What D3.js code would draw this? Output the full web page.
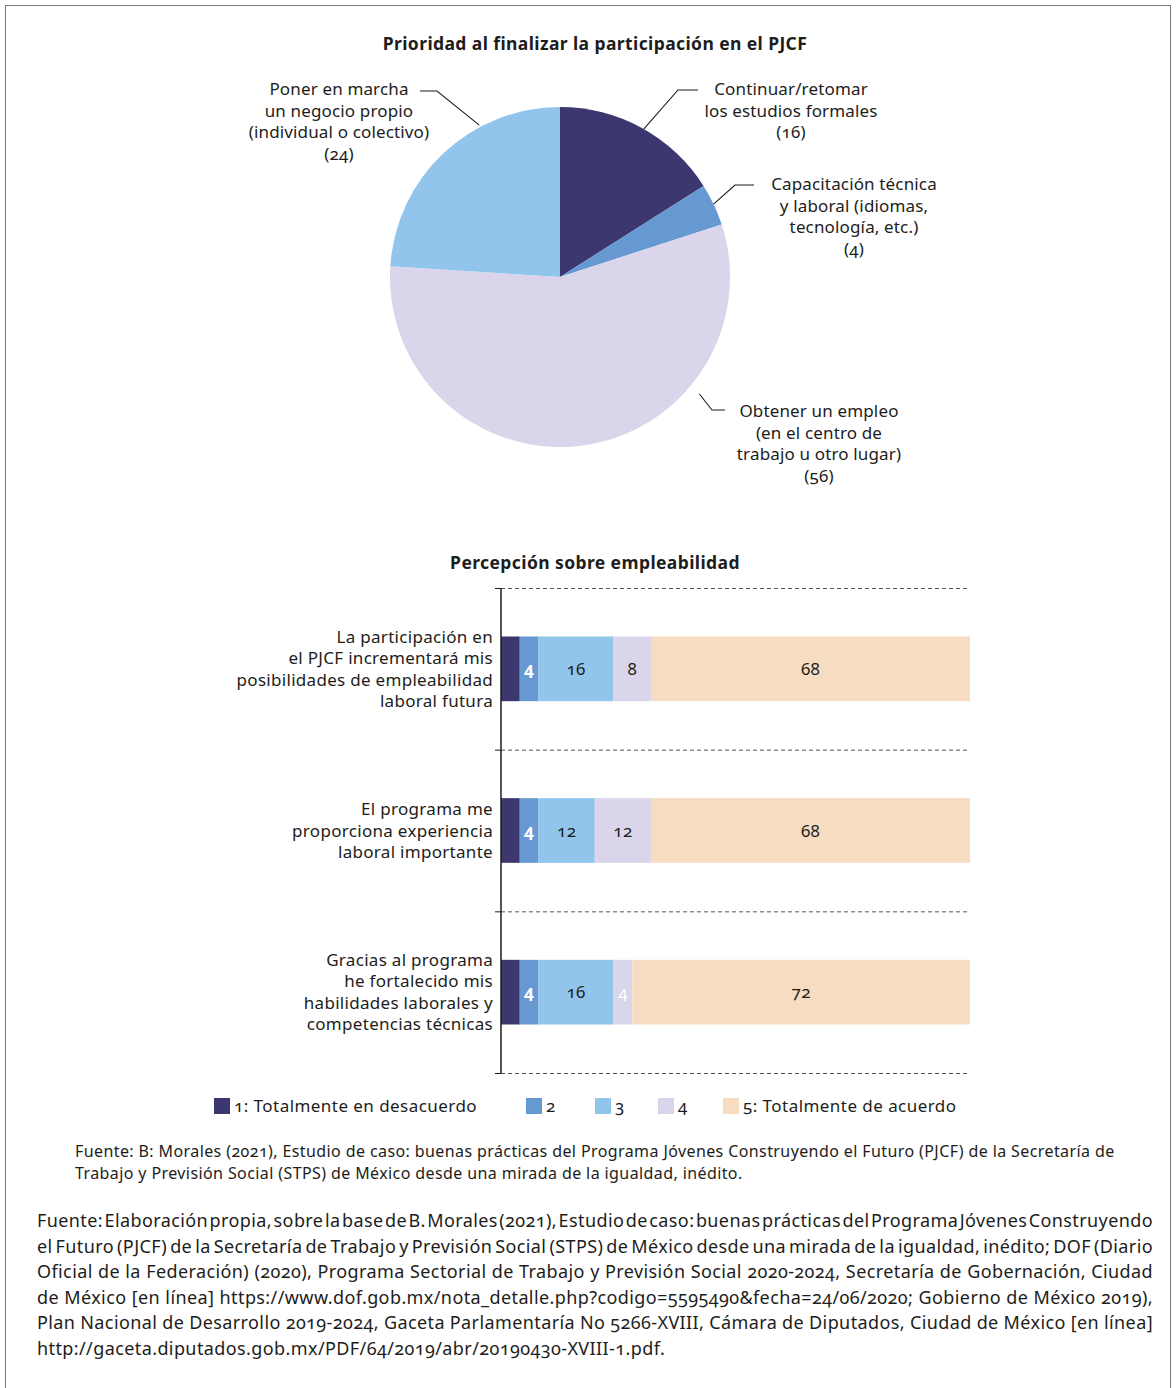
<!DOCTYPE html>
<html lang="es">
<head>
<meta charset="utf-8">
<script src="https://cdn.jsdelivr.net/npm/d3@7"></script>
<style>
  html, body { margin: 0; padding: 0; background: #fff; }
  svg { display: block; }
  text { font-family: "Noto Sans", "Open Sans", sans-serif; fill: #1d1d1b; font-variant-numeric: oldstyle-nums; font-feature-settings: "onum" 1; }
  .title { font-weight: 700; font-size: 17.5px; letter-spacing: 0.4px; }
  .lbl { font-size: 17px; letter-spacing: 0.3px; }
  .pielbl { font-size: 17px; letter-spacing: 0.15px; }
  .note { font-size: 16px; letter-spacing: 0.4px; }
  .src { font-size: 18px; letter-spacing: 0.4px; }
</style>
</head>
<body>
<svg id="chart" width="1176" height="1388"></svg>
<script>
// ---- Pie: priority after finishing the programme ----
const pieCategories = [
  "Continuar/retomar los estudios formales",
  "Capacitación técnica y laboral (idiomas, tecnología, etc.)",
  "Obtener un empleo (en el centro de trabajo u otro lugar)",
  "Poner en marcha un negocio propio (individual o colectivo)"
];
const pieValues = [16, 4, 56, 24];
const pieLabelLines = [
  ["Continuar/retomar", "los estudios formales", "(16)"],
  ["Capacitación técnica", "y laboral (idiomas,", "tecnología, etc.)", "(4)"],
  ["Obtener un empleo", "(en el centro de", "trabajo u otro lugar)", "(56)"],
  ["Poner en marcha", "un negocio propio", "(individual o colectivo)", "(24)"]
];
const pieColors = ["#3c376e", "#6699d2", "#dad5ea", "#92c5ec"];

// ---- Stacked bars: perceived employability ----
const barCategories = [
  "La participación en el PJCF incrementará mis posibilidades de empleabilidad laboral futura",
  "El programa me proporciona experiencia laboral importante",
  "Gracias al programa he fortalecido mis habilidades laborales y competencias técnicas"
];
const barCategoryLines = [
  ["La participación en", "el PJCF incrementará mis", "posibilidades de empleabilidad", "laboral futura"],
  ["El programa me", "proporciona experiencia", "laboral importante"],
  ["Gracias al programa", "he fortalecido mis", "habilidades laborales y", "competencias técnicas"]
];
const seriesNames = ["1: Totalmente en desacuerdo", "2", "3", "4", "5: Totalmente de acuerdo"];
const seriesValues = [
  [4, 4, 16, 8, 68],
  [4, 4, 12, 12, 68],
  [4, 4, 16, 4, 72]
];
const seriesColors = ["#3c376e", "#6699d2", "#92c5ec", "#dad5ea", "#f6dcc0"];

const pieTitle = "Prioridad al finalizar la participación en el PJCF";
const barTitle = "Percepción sobre empleabilidad";
const noteLines = [
  "Fuente: B: Morales (2021), Estudio de caso: buenas prácticas del Programa Jóvenes Construyendo el Futuro (PJCF) de la Secretaría de",
  "Trabajo y Previsión Social (STPS) de México desde una mirada de la igualdad, inédito."
];
const sourceLines = [
  "Fuente: Elaboración propia, sobre la base de B. Morales (2021), Estudio de caso: buenas prácticas del Programa Jóvenes Construyendo",
  "el Futuro (PJCF) de la Secretaría de Trabajo y Previsión Social (STPS) de México desde una mirada de la igualdad, inédito; DOF (Diario",
  "Oficial de la Federación) (2020), Programa Sectorial de Trabajo y Previsión Social 2020-2024, Secretaría de Gobernación, Ciudad",
  "de México [en línea] https://www.dof.gob.mx/nota_detalle.php?codigo=5595490&fecha=24/06/2020; Gobierno de México 2019),",
  "Plan Nacional de Desarrollo 2019-2024, Gaceta Parlamentaría No 5266-XVIII, Cámara de Diputados, Ciudad de México [en línea]",
  "http://gaceta.diputados.gob.mx/PDF/64/2019/abr/20190430-XVIII-1.pdf."
];

const svg = d3.select("#chart");

// outer frame
svg.append("rect")
  .attr("x", 5.5).attr("y", 5.5)
  .attr("width", 1165).attr("height", 1400)
  .attr("fill", "none").attr("stroke", "#7a7a7a").attr("stroke-width", 1);

// ================= PIE =================
svg.append("text").attr("class", "title")
  .attr("x", 595).attr("y", 50).attr("text-anchor", "middle").text(pieTitle);

const cx = 560, cy = 277, R = 170;
const pie = d3.pie().sort(null).value(d => d)(pieValues);
const arc = d3.arc().innerRadius(0).outerRadius(R);
const gPie = svg.append("g").attr("transform", `translate(${cx},${cy})`);
gPie.selectAll("path").data(pie).join("path")
  .attr("d", arc)
  .attr("fill", (d, i) => pieColors[i]);

// leader lines: start angle on the rim (degrees clockwise from top), elbow, end of horizontal stub
const leaders = [
  { deg: 29.5, gap: 0, elbow: [678, 90], end: [698, 90], tx: 791, ty: 95 },
  { deg: 64.6, gap: 0, elbow: [735, 185], end: [754, 185], tx: 854, ty: 190 },
  { deg: 130, gap: 12, elbow: [712, 410], end: [725, 410], tx: 819, ty: 417 },
  { deg: 332, gap: 2, elbow: [437, 91], end: [420, 91], tx: 339, ty: 95 }
];
const lineH = 21.5;
leaders.forEach((L, i) => {
  const a = L.deg * Math.PI / 180, r = R + L.gap;
  const sx = cx + r * Math.sin(a), sy = cy - r * Math.cos(a);
  svg.append("polyline")
    .attr("points", [[sx, sy], L.elbow, L.end].map(p => p.join(",")).join(" "))
    .attr("fill", "none").attr("stroke", "#1d1d1b").attr("stroke-width", 1.1);
  const t = svg.append("text").attr("class", "pielbl").attr("text-anchor", "middle");
  pieLabelLines[i].forEach((s, k) => {
    t.append("tspan").attr("x", L.tx).attr("y", L.ty + k * lineH).text(s);
  });
});

// ================= STACKED BARS =================
svg.append("text").attr("class", "title")
  .attr("x", 595).attr("y", 569).attr("text-anchor", "middle").text(barTitle);

const x = d3.scaleLinear().domain([0, 100]).range([501, 970]);
const yRow = d3.scaleBand().domain(barCategories).range([588, 1073]).padding(0);
const yBar = d3.scaleBand().domain(barCategories).range([588, 1073])
  .paddingInner(0.6).paddingOuter(0.3);

// dashed separators between rows
const bounds = barCategories.map(c => yRow(c)).concat([yRow.range()[1]]);
svg.append("g").selectAll("line").data(bounds).join("line")
  .attr("x1", x(0)).attr("x2", x(100))
  .attr("y1", d => d + 0.5).attr("y2", d => d + 0.5)
  .attr("stroke", "#555").attr("stroke-width", 1).attr("stroke-dasharray", "4,3");

const stackData = barCategories.map((c, r) => {
  const o = { cat: c };
  seriesNames.forEach((s, k) => o[s] = seriesValues[r][k]);
  return o;
});
const stacked = d3.stack().keys(seriesNames)(stackData);

const gBars = svg.append("g");
stacked.forEach((layer, k) => {
  gBars.selectAll(null).data(layer).join("rect")
    .attr("x", d => x(d[0]))
    .attr("y", d => yBar(d.data.cat))
    .attr("width", d => x(d[1]) - x(d[0]))
    .attr("height", yBar.bandwidth())
    .attr("fill", seriesColors[k]);
});
// value labels (first series carries none)
stacked.forEach((layer, k) => {
  if (k === 0) return;
  gBars.selectAll(null).data(layer).join("text")
    .attr("class", "lbl")
    .attr("x", d => (x(d[0]) + x(d[1])) / 2)
    .attr("y", d => yBar(d.data.cat) + yBar.bandwidth() / 2)
    .attr("dy", "0.36em")
    .attr("text-anchor", "middle")
    .style("fill", d => (k === 1 || (k === 3 && d[1] - d[0] <= 4)) ? "#fff" : "#1d1d1b")
    .style("font-weight", k === 1 ? 700 : 400)
    .text(d => d[1] - d[0]);
});

// y axis line and row ticks
svg.append("line")
  .attr("x1", 501).attr("x2", 501).attr("y1", 588).attr("y2", 1073)
  .attr("stroke", "#1d1d1b").attr("stroke-width", 1.5);
svg.append("g").selectAll("line").data(bounds).join("line")
  .attr("x1", 495).attr("x2", 501)
  .attr("y1", d => d + 0.5).attr("y2", d => d + 0.5)
  .attr("stroke", "#1d1d1b").attr("stroke-width", 1);

// category labels
barCategories.forEach((c, r) => {
  const lines = barCategoryLines[r];
  const mid = yRow(c) + yRow.bandwidth() / 2;
  const t = svg.append("text").attr("class", "lbl").attr("text-anchor", "end");
  lines.forEach((s, k) => {
    t.append("tspan").attr("x", 493)
      .attr("y", mid + (k - (lines.length - 1) / 2) * lineH + 6)
      .text(s);
  });
});

// legend
const legendX = [214, 526, 595, 658, 723];
const gLeg = svg.append("g");
seriesNames.forEach((s, k) => {
  gLeg.append("rect").attr("x", legendX[k]).attr("y", 1098)
    .attr("width", 16).attr("height", 16).attr("fill", seriesColors[k]);
  gLeg.append("text").attr("class", "lbl")
    .style("letter-spacing", "0.45px")
    .attr("x", legendX[k] + 20).attr("y", 1112).text(s);
});

// inner source note
noteLines.forEach((s, k) => {
  svg.append("text").attr("class", "note")
    .attr("x", 75).attr("y", 1157 + k * 22).text(s);
});

// justified source paragraph
const srcLeft = 37, srcRight = 1153;
sourceLines.forEach((s, k) => {
  const t = svg.append("text").attr("class", "src")
    .attr("x", srcLeft).attr("y", 1227 + k * 25.5).text(s);
  if (k < sourceLines.length - 1) {
    const w = t.node().getComputedTextLength();
    const spaces = (s.match(/ /g) || []).length;
    if (spaces > 0) t.style("word-spacing", ((srcRight - srcLeft - w) / spaces) + "px");
  }
});
</script>
</body>
</html>
